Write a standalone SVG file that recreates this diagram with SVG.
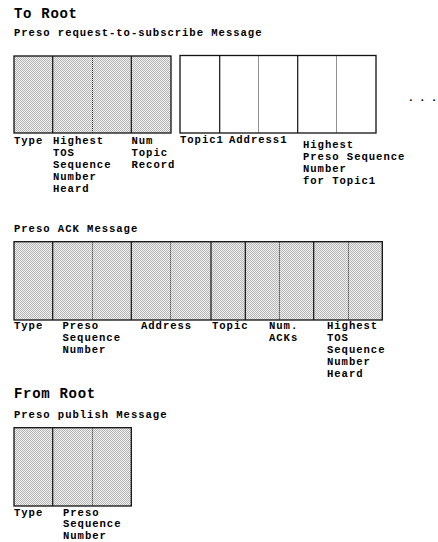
<svg xmlns="http://www.w3.org/2000/svg" width="438" height="542" viewBox="0 0 438 542">
<defs>
<pattern id="stip" width="2" height="2" patternUnits="userSpaceOnUse">
<rect width="2" height="2" fill="#f2f2f2"/>
<rect x="0" y="0" width="1" height="1" fill="#b4b4b4"/>
<rect x="1" y="1" width="1" height="1" fill="#b4b4b4"/>
</pattern>
</defs>
<style>
text{font-family:"Liberation Mono","Courier New",monospace;font-weight:bold;fill:#000;font-size:10.6px;letter-spacing:0.95px}
.h{font-size:14px;letter-spacing:0.7px}
.box{stroke:#111;stroke-width:1.3}
.shade{fill:url(#stip)}
.plain{fill:#fff}
.sd{stroke:#111;stroke-width:1.2}
.dt{stroke:#222;stroke-width:1;stroke-dasharray:1 1}
</style>
<text class="h" x="14" y="18">To Root</text>
<text x="14" y="35.5">Preso request-to-subscribe Message</text>

<g id="subscribe-fixed">
<rect class="box shade" x="14" y="56" width="157" height="77"/>
<line class="sd" x1="52.7" y1="56" x2="52.7" y2="133"/>
<line class="dt" x1="92.5" y1="56" x2="92.5" y2="133"/>
<line class="sd" x1="131.3" y1="56" x2="131.3" y2="133"/>
<text x="14" y="144">Type</text>
<text x="53" y="144">Highest</text>
<text x="53" y="156">TOS</text>
<text x="53" y="168">Sequence</text>
<text x="53" y="180">Number</text>
<text x="53" y="192">Heard</text>
<text x="131.5" y="144">Num</text>
<text x="131.5" y="156">Topic</text>
<text x="131.5" y="168">Record</text>
</g>

<g id="subscribe-record">
<rect class="box plain" x="180" y="55.5" width="196" height="77.5"/>
<line class="sd" x1="219.7" y1="55.5" x2="219.7" y2="133"/>
<line class="dt" x1="258.5" y1="55.5" x2="258.5" y2="133"/>
<line class="sd" x1="297.7" y1="55.5" x2="297.7" y2="133"/>
<line class="dt" x1="336.5" y1="55.5" x2="336.5" y2="133"/>
<text x="180" y="143">Topic1</text>
<text x="229" y="143">Address1</text>
<text x="303" y="148">Highest</text>
<text x="303" y="160">Preso Sequence</text>
<text x="303" y="172">Number</text>
<text x="303" y="184">for Topic1</text>
</g>

<text id="ellipsis" x="407.5 419.1 430.7" y="101" style="font-size:11px;letter-spacing:0">...</text>

<text x="14" y="232">Preso ACK Message</text>
<g id="ack">
<rect class="box shade" x="14" y="241.7" width="368.3" height="78.3"/>
<line class="sd" x1="52.7" y1="241.7" x2="52.7" y2="320"/>
<line class="dt" x1="92.5" y1="241.7" x2="92.5" y2="320"/>
<line class="sd" x1="131.3" y1="241.7" x2="131.3" y2="320"/>
<line class="dt" x1="170.5" y1="241.7" x2="170.5" y2="320"/>
<line class="sd" x1="211" y1="241.7" x2="211" y2="320"/>
<line class="sd" x1="245.3" y1="241.7" x2="245.3" y2="320"/>
<line class="dt" x1="279.5" y1="241.7" x2="279.5" y2="320"/>
<line class="sd" x1="313.7" y1="241.7" x2="313.7" y2="320"/>
<line class="dt" x1="348.5" y1="241.7" x2="348.5" y2="320"/>
<text x="14" y="329">Type</text>
<text x="62.5" y="329">Preso</text>
<text x="62.5" y="341">Sequence</text>
<text x="62.5" y="353">Number</text>
<text x="141" y="329">Address</text>
<text x="212" y="329">Topic</text>
<text x="269" y="329">Num.</text>
<text x="269" y="341">ACKs</text>
<text x="327" y="329">Highest</text>
<text x="327" y="341">TOS</text>
<text x="327" y="353">Sequence</text>
<text x="327" y="365">Number</text>
<text x="327" y="377">Heard</text>
</g>

<text class="h" x="14" y="398">From Root</text>
<text x="14" y="418">Preso publish Message</text>
<g id="publish">
<rect class="box shade" x="14" y="427.7" width="117.3" height="78.3"/>
<line class="sd" x1="52.7" y1="427.7" x2="52.7" y2="506"/>
<line class="dt" x1="92.5" y1="427.7" x2="92.5" y2="506"/>
<text x="14" y="515.5">Type</text>
<text x="63" y="515.5">Preso</text>
<text x="63" y="527">Sequence</text>
<text x="63" y="538.5">Number</text>
</g>
</svg>
